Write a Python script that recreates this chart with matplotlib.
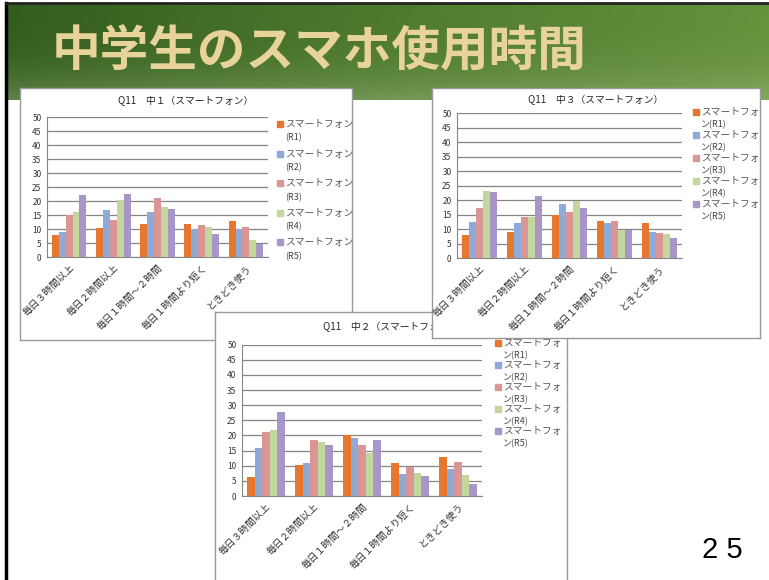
import numpy as np
import matplotlib
matplotlib.use('Agg')
import matplotlib.pyplot as plt
from matplotlib.patches import Rectangle

plt.rcParams['font.family'] = ['Noto Sans CJK JP', 'DejaVu Sans']

W, H = 769, 580

# data
categories = ['毎日３時間以上', '毎日２時間以上', '毎日１時間～２時間', '毎日１時間より短く', 'ときどき使う']
series = ['R1', 'R2', 'R3', 'R4', 'R5']

# 中1
chu1_r1 = [8.1, 10.4, 12.0, 11.8, 12.9]
chu1_r2 = [9.0, 16.9, 16.2, 10.1, 10.1]
chu1_r3 = [15.1, 13.5, 21.1, 11.5, 11.0]
chu1_r4 = [16.2, 20.5, 18.0, 10.8, 6.2]
chu1_r5 = [22.1, 22.5, 17.4, 8.5, 4.9]

# 中2
chu2_r1 = [6.2, 10.1, 20.3, 10.8, 13.0]
chu2_r2 = [15.7, 11.0, 19.3, 7.2, 9.0]
chu2_r3 = [21.1, 18.4, 16.7, 9.5, 11.1]
chu2_r4 = [21.8, 17.8, 14.3, 7.7, 6.9]
chu2_r5 = [27.9, 16.7, 18.4, 6.7, 4.0]

# 中3
chu3_r1 = [8.0, 9.0, 14.9, 12.9, 12.2]
chu3_r2 = [12.6, 12.0, 18.7, 12.0, 8.9]
chu3_r3 = [17.2, 14.4, 16.1, 13.0, 8.7]
chu3_r4 = [23.2, 14.4, 19.9, 9.9, 8.5]
chu3_r5 = [23.0, 21.5, 17.2, 9.9, 6.9]

colors = ['#E8772E', '#8DAAD8', '#D99694', '#C3D69B', '#A896C8']


def frac(x, y, w, h):
    # pixel box (top-left origin) -> figure fraction
    return [x / W, 1 - (y + h) / H, w / W, h / H]


fig = plt.figure(figsize=(W / 100, H / 100), dpi=100)

# slide background + green header
bg = fig.add_axes([0, 0, 1, 1])
bg.set_xlim(0, W)
bg.set_ylim(H, 0)
bg.axis('off')
gx = np.linspace(0, 1, 200)
gy = np.linspace(0, 1, 60)
X, Y = np.meshgrid(gx, gy)
c_left = np.array([0.20, 0.36, 0.12])
c_mid = np.array([0.31, 0.48, 0.18])
c_right = np.array([0.40, 0.57, 0.24])
hor = np.where(X[..., None] < 0.5,
               c_left + (c_mid - c_left) * (X[..., None] / 0.5),
               c_mid + (c_right - c_mid) * ((X[..., None] - 0.5) / 0.5))
img = hor * (1 - 0.3 * Y[..., None] ** 3) + 0.3 * Y[..., None] ** 3 * np.array([0.78, 0.87, 0.68])
bg.imshow(np.clip(img, 0, 1), extent=(6, W, 100, 3), aspect='auto', zorder=1)
bg.plot([6, 6], [3, H], color='black', lw=2.5, zorder=3)
bg.plot([6, W], [3, 3], color='#222222', lw=2, zorder=3)
bg.text(52, 52, '中学生のスマホ使用時間', fontsize=35, fontweight='bold',
        color='#E8D49A', ha='left', va='center', zorder=4)
bg.text(722, 550, '2 5', fontsize=21, color='black', ha='center', va='center',
        family=['Liberation Sans', 'DejaVu Sans'], zorder=4)


def draw_chart(panel, plot, title, title_y, data, leg):
    px, py, pw, ph = panel
    pan = fig.add_axes(frac(px, py, pw, ph))
    pan.set_xlim(0, pw)
    pan.set_ylim(ph, 0)
    pan.set_xticks([])
    pan.set_yticks([])
    pan.set_facecolor('white')
    for s in pan.spines.values():
        s.set_color('#9a9a9a')
        s.set_linewidth(1)
    pan.text(pw / 2, title_y, title, ha='center', va='center', fontsize=7, color='#222222')

    # legend (Excel style, drawn by hand)
    lx, ly, step, gap, wrap = leg
    for i, name in enumerate(series):
        y0 = ly + i * step
        pan.add_patch(Rectangle((lx, y0 - 3), 6, 6, color=colors[i]))
        if wrap:
            pan.text(lx + 8, y0, 'スマートフォ', fontsize=7, color='#555555', va='center')
            pan.text(lx + 8, y0 + gap, 'ン(' + name + ')', fontsize=6.5, color='#444444', va='center')
        else:
            pan.text(lx + 8, y0, 'スマートフォン', fontsize=7, color='#555555', va='center')
            pan.text(lx + 8, y0 + gap, '(' + name + ')', fontsize=6.5, color='#444444', va='center')

    ax = fig.add_axes(frac(*plot))
    ax.patch.set_alpha(0)
    x = np.arange(len(categories))
    bw = 0.156
    for i, vals in enumerate(data):
        ax.bar(x + (i - 2) * bw, vals, bw, color=colors[i], zorder=3)
    ax.set_xlim(-0.5, 4.5)
    ax.set_ylim(0, 50)
    ax.set_yticks(range(0, 51, 5))
    ax.yaxis.grid(True, color='#858585', lw=0.9, zorder=0)
    ax.set_axisbelow(True)
    for s in ['top', 'right']:
        ax.spines[s].set_visible(False)
    for s in ['left', 'bottom']:
        ax.spines[s].set_color('#858585')
    ax.set_xticks(x)
    ax.set_xticklabels(categories, rotation=45, ha='right', rotation_mode='anchor',
                       fontsize=7, color='#333333')
    ax.tick_params(axis='x', length=0, pad=4)
    ax.tick_params(axis='y', length=0, pad=4, labelsize=6, labelcolor='#333333')
    return ax


draw_chart((20, 88, 332, 252), (47, 117.3, 221, 140), 'Q11　中１（スマートフォン）', 13,
           [chu1_r1, chu1_r2, chu1_r3, chu1_r4, chu1_r5], (257, 36, 29.6, 14, False))
draw_chart((215, 312, 352, 290), (242, 344.7, 240, 151.3), 'Q11　中２（スマートフォン）', 15,
           [chu2_r1, chu2_r2, chu2_r3, chu2_r4, chu2_r5], (280, 31, 22, 12.7, True))
draw_chart((432, 88, 328, 250), (457, 113.3, 225, 145), 'Q11　中３（スマートフォン）', 12,
           [chu3_r1, chu3_r2, chu3_r3, chu3_r4, chu3_r5], (261, 24, 23, 12.7, True))

fig.savefig('out.png', dpi=100)
